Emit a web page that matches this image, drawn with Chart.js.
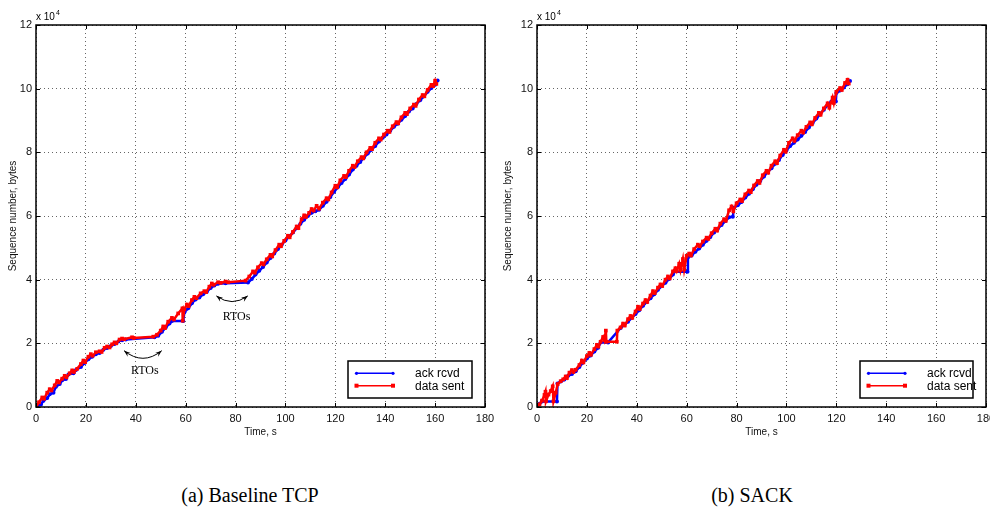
<!DOCTYPE html>
<html>
<head>
<meta charset="utf-8">
<script src="https://cdn.jsdelivr.net/npm/chart.js@4.4.1/dist/chart.umd.min.js"></script>
<style>
  html, body { margin: 0; padding: 0; background: #fff; overflow: hidden; }
  #wrap { position: relative; width: 990px; height: 515px; }
  canvas { position: absolute; top: 0; }
  #c1 { left: 0; }
  #c2 { left: 495px; }
  .cap {
    position: absolute; top: 484px; transform: translateX(-50%); white-space: nowrap;
    font-family: "Liberation Serif", "DejaVu Serif", serif; font-size: 20px; color: #000;
  }
</style>
</head>
<body>
<div id="wrap">
  <canvas id="c1" width="495" height="450"></canvas>
  <canvas id="c2" width="495" height="450"></canvas>
  <div class="cap" style="left:250px">(a) Baseline TCP</div>
  <div class="cap" style="left:752px">(b) SACK</div>
</div>
<script>
// series names
const seriesLabels = ['ack rcvd', 'data sent'];

// [time s, sequence number bytes]

// (a) Baseline TCP
const baseAck = [
  [0,0],[2,800],[3,2000],[4.5,2800],[5.5,4000],[7,4500],[8,6400],[9.5,7200],[10.5,8400],[12,8800],
  [13,10200],[15,10600],[16,11600],[18,12600],[19.5,13800],[21,15000],[22.5,15800],[24,16600],[25.5,17000],
  [27,18000],[28.5,18500],[30,19200],[31.5,19800],[33,20600],[34.5,21000],[36,21200],[47.5,21900],[49,22400],
  [50.5,23600],[52,25000],[53.5,26200],[54.5,27000],[59,27000],[59.5,29800],[61,31000],[62.5,32600],[64,33800],
  [65.5,34400],[67,35400],[68.5,36200],[70,37400],[71.5,38200],[73,38700],[76,38900],[85,39100],[86.5,40200],
  [88,41600],[89.5,42800],[91,44000],[92.5,45400],[94,46800],[95.5,48200],[97,49600],[98.5,51000],[100,52300],
  [101.5,53600],[103,54800],[104.5,56200],[106,57600],[107.5,58800],[109,60000],[110.5,61000],[112,61500],
  [113.5,62000],[115,63200],[116.5,64500],[118,66000],[119.5,67600],[121,69000],[122.5,70400],[124,71600],
  [125.5,73000],[127,74600],[128.5,75800],[130,77000],[131.5,78400],[133,79600],[134.5,80800],[136,82000],
  [137.5,83400],[139,84600],[140.5,85600],[142,86800],[143.5,88000],[145,89000],[146.5,90200],[148,91400],
  [149.5,92800],[151,93800],[152.5,95200],[154,96400],[155.5,97600],[157,99000],[158.5,100200],[160,101200],
  [161,102600]
];
const baseSent = [
  [0,0],[1.2,1500],[2.5,3000],[3.2,2600],[4.5,4500],[5.5,5600],[6.2,5200],[7.5,6800],[8.5,8200],[9.2,7700],
  [10.5,8900],[11.5,9800],[12.2,9300],[13.5,10600],[14.5,11500],[15.2,11000],[16.5,12000],[18,13500],[19,14600],
  [19.7,14100],[21,15800],[22,16600],[22.7,16100],[24,17200],[25.5,17500],[26.3,17300],[27.5,18600],[28.5,19000],
  [29.5,18700],[30.5,19700],[31.5,20300],[32.2,20000],[33.5,21200],[34.5,21500],[35.3,21300],[38.5,21900],
  [39.2,21700],[47,22100],[48.5,22700],[50,24000],[51,25300],[51.7,24800],[53,26800],[54.5,28000],[55.3,27500],
  [57,29400],[58.7,31000],[58.8,27100],[59.5,30800],[60.5,32200],[61.2,31700],[62.5,33600],[63.5,34600],
  [64.3,34200],[66,35700],[67.5,36400],[68.2,36100],[69.5,37800],[70.5,38800],[71.2,38400],[73,39200],
  [74,39000],[76,39400],[77,39200],[84,39700],[85.5,41000],[87,42600],[87.7,42200],[89,43900],[90.5,45200],
  [91.2,44800],[92.5,46400],[94,47800],[94.7,47300],[96,49300],[97.5,51000],[98.2,50500],[99.5,52200],
  [101,53800],[101.7,53300],[103,55000],[104.5,56700],[105.2,56200],[106.5,59000],[107.5,60200],[108.2,59700],
  [109.5,61000],[110.5,62200],[111.3,61700],[112.5,63200],[113.5,62300],[115,64200],[116.5,65600],[117.2,65200],
  [118.5,67400],[120,69500],[120.7,69000],[122,71200],[123.5,72600],[124.2,72200],[125.5,74200],[127,75800],
  [127.7,75400],[129,77200],[130.5,78500],[131.2,78100],[132.5,80000],[134,81400],[134.7,81000],[136,83000],
  [137.5,84400],[138.2,84000],[139.5,85600],[141,86800],[141.7,86400],[143,88200],[144.5,89500],[145.2,89100],
  [146.5,91000],[148,92400],[148.7,92000],[150,93800],[151.5,95000],[152.2,94600],[153.5,96600],[155,98000],
  [155.7,97600],[157,99600],[158.5,101200],[159.2,100800],[160,102500],[160.5,101500]
];

// (b) SACK
const sackAck = [
  [0,0],[1,1000],[2,1700],[8,1700],[8.2,7400],[9.5,8000],[11,8600],[12.5,9800],[14,10400],[15.5,11200],
  [17,12600],[18.5,14000],[20,15200],[21.5,16200],[23,17400],[24.5,18600],[25.5,20300],[28.5,20300],[33.5,24800],
  [35,25800],[36.5,26800],[38,28000],[39.5,29200],[41,30400],[42.5,31800],[44,33000],[45.5,34200],[47,35400],
  [48.5,36800],[50,38000],[51.5,39000],[53,40200],[54.5,41600],[55,42500],[60.3,42500],[60.5,47000],[62,47600],
  [63.5,48800],[65,49800],[66.5,51000],[68,52200],[69.5,53400],[71,54800],[72.5,56000],[74,57200],[75.5,58400],
  [77,59600],[78.5,59800],[79,62600],[80.5,63400],[82,64400],[83.5,65800],[85,67000],[86.5,68400],[88,69800],
  [89.5,71000],[91,72400],[92.5,73800],[94,75000],[95.5,76400],[97,77600],[98.5,79200],[100,80600],[101.5,82000],
  [103,83000],[104.5,84000],[106,85200],[107.5,86400],[109,87800],[110.5,89200],[112,90600],[113.5,92000],
  [115,93400],[116.5,94800],[118,96000],[119.8,96000],[120,98600],[121.5,99400],[123,100400],[124.5,101400],
  [125.5,102400]
];
const sackSent = [
  [0,0],[1,800],[2,2000],[3,3800],[3.4,4800],[3.6,1800],[4.6,3900],[5.5,5000],[6.3,6500],[6.6,1800],[7.5,4500],
  [8.3,7200],[9.5,8100],[10.5,8700],[11.5,9600],[12,9100],[13,10800],[14,11600],[14.6,11000],[15.5,11700],
  [17,13200],[18,14600],[18.6,14000],[20,16000],[21,17000],[21.6,16400],[23,18200],[24,19500],[24.6,19000],
  [25.5,20500],[26.5,22000],[27,21000],[27.6,24000],[27.8,20500],[32,20500],[32.2,24000],[33.5,25000],
  [34.5,26200],[35.2,25600],[36.5,27600],[37.5,28600],[38.2,28000],[39.5,30000],[40.5,31500],[41.2,30800],
  [42.5,32500],[43.5,33600],[44.2,33000],[45.5,35000],[46.5,36400],[47.2,35800],[48.5,37500],[49.5,38500],
  [50.2,38000],[51.5,40000],[52.5,41000],[53.2,40400],[54.5,42600],[55.5,43600],[56,42700],[57,45000],
  [57.5,43000],[58.5,46500],[59,43200],[60,47500],[61,48200],[61.7,47600],[63,49600],[64.5,51000],[65.2,50500],
  [66.5,52000],[68,53200],[68.7,52800],[70,54600],[71.5,56000],[72.2,55400],[73.5,57600],[75,59000],
  [75.7,58500],[77,61800],[78,63000],[78.7,61500],[80,64000],[81.5,65200],[82.2,64700],[83.5,66800],[85,68000],
  [85.7,67500],[87,69600],[88.5,71000],[89.2,70400],[90.5,72800],[92,74200],[92.7,73600],[94,75800],[95.5,77200],
  [96.2,76600],[97.5,79000],[99,80800],[99.7,80200],[101,83000],[102.5,84400],[103.2,83600],[104.5,85400],
  [106,86800],[106.7,86200],[108,88000],[109.5,89400],[110.2,88800],[111.5,90800],[113,92400],[113.7,91800],
  [115,93800],[116.5,95400],[117.2,94000],[118.5,97200],[119,95500],[120,99000],[121.5,100200],[122.2,99600],
  [123.5,101800],[124.5,102800],[125,101600]
];

// "RTOs" notes on the baseline plot: curve start, control, end, text spot (data units)
const baseNotes = [
  { a: [35.3, 17700], c: [42.9, 12900], b: [50.4, 17700], at: [43.6, 11400], text: 'RTOs' },
  { a: [72.3, 34900], c: [78.6, 31300], b: [84.9, 34900], at: [80.4, 28400], text: 'RTOs' }
];

const tickFont = { family: 'Liberation Sans, Arial, sans-serif', size: 11 };
const titleFont = { family: 'Liberation Sans, Arial, sans-serif', size: 10 };

function line(ctx, x1, y1, x2, y2) {
  ctx.beginPath(); ctx.moveTo(x1, y1); ctx.lineTo(x2, y2); ctx.stroke();
}

function arrowHead(ctx, tip, from) {
  const ang = Math.atan2(tip[1] - from[1], tip[0] - from[0]);
  const len = 7, spread = 0.35;
  ctx.beginPath();
  ctx.moveTo(tip[0], tip[1]);
  ctx.lineTo(tip[0] - len * Math.cos(ang - spread), tip[1] - len * Math.sin(ang - spread));
  ctx.lineTo(tip[0] - len * 0.6 * Math.cos(ang), tip[1] - len * 0.6 * Math.sin(ang));
  ctx.lineTo(tip[0] - len * Math.cos(ang + spread), tip[1] - len * Math.sin(ang + spread));
  ctx.closePath();
  ctx.fill();
}

const decorPlugin = {
  id: 'decor',
  afterDraw(chart, args, opts) {
    const { ctx, chartArea: a, scales: { x, y } } = chart;
    ctx.save();
    ctx.strokeStyle = '#000';
    ctx.fillStyle = '#000';
    ctx.lineWidth = 1;

    // inward tick marks on all four sides
    x.ticks.forEach(t => {
      const px = Math.round(x.getPixelForValue(t.value)) + 0.5;
      line(ctx, px, a.bottom, px, a.bottom - 4);
      line(ctx, px, a.top, px, a.top + 4);
    });
    y.ticks.forEach(t => {
      const py = Math.round(y.getPixelForValue(t.value)) + 0.5;
      line(ctx, a.left, py, a.left + 4, py);
      line(ctx, a.right, py, a.right - 4, py);
    });

    // axes box
    ctx.lineWidth = 1.5;
    ctx.strokeRect(a.left, a.top, a.right - a.left, a.bottom - a.top);

    // x 10^4 multiplier
    ctx.font = '10px "Liberation Sans", Arial, sans-serif';
    ctx.textBaseline = 'alphabetic';
    ctx.textAlign = 'left';
    ctx.fillText('x 10', a.left, a.top - 5);
    const w = ctx.measureText('x 10').width;
    ctx.font = '7px "Liberation Sans", Arial, sans-serif';
    ctx.fillText('4', a.left + w + 1, a.top - 10);

    // notes with curved double arrows
    ctx.lineWidth = 1;
    (opts.notes || []).forEach(n => {
      const p0 = [x.getPixelForValue(n.a[0]), y.getPixelForValue(n.a[1])];
      const pc = [x.getPixelForValue(n.c[0]), y.getPixelForValue(n.c[1])];
      const p1 = [x.getPixelForValue(n.b[0]), y.getPixelForValue(n.b[1])];
      ctx.beginPath();
      ctx.moveTo(p0[0], p0[1]);
      ctx.quadraticCurveTo(pc[0], pc[1], p1[0], p1[1]);
      ctx.stroke();
      arrowHead(ctx, p0, pc);
      arrowHead(ctx, p1, pc);
      ctx.font = '12px "Liberation Serif", "Times New Roman", serif';
      ctx.textAlign = 'center';
      ctx.textBaseline = 'middle';
      ctx.fillText(n.text, x.getPixelForValue(n.at[0]), y.getPixelForValue(n.at[1]));
    });

    // legend box
    const L = opts.legend;
    const bx = a.right - L.right - L.w;
    const by = a.bottom - L.bottom;
    ctx.fillStyle = '#fff';
    ctx.fillRect(bx, by, L.w, L.h);
    ctx.strokeStyle = '#000';
    ctx.lineWidth = 1.5;
    ctx.strokeRect(bx, by, L.w, L.h);
    ctx.font = '12px "Liberation Sans", Arial, sans-serif';
    ctx.textAlign = 'left';
    ctx.textBaseline = 'middle';
    chart.data.datasets.forEach((ds, i) => {
      const ly = by + 12.3 + i * 12.4;
      const x1 = bx + 8.5, x2 = bx + 45;
      ctx.strokeStyle = ds.borderColor;
      ctx.fillStyle = ds.borderColor;
      ctx.lineWidth = 1.5;
      line(ctx, x1, ly, x2, ly);
      [x1, x2].forEach(px => {
        if (ds.pointStyle === 'rect') ctx.fillRect(px - 2, ly - 2, 4, 4);
        else { ctx.beginPath(); ctx.arc(px, ly, 1.6, 0, Math.PI * 2); ctx.fill(); }
      });
      ctx.fillStyle = '#000';
      ctx.fillText(ds.label, bx + 67, ly + 0.5);
    });
    ctx.restore();
  }
};

function makeChart(id, ack, sent, notes, yWidth, padRight, legend) {
  const ctx = document.getElementById(id).getContext('2d');
  return new Chart(ctx, {
    type: 'line',
    data: {
      datasets: [{
        label: seriesLabels[0],
        data: ack.map(p => ({ x: p[0], y: p[1] })),
        borderColor: 'rgb(0, 0, 255)',
        backgroundColor: 'rgb(0, 0, 255)',
        borderWidth: 2.5,
        pointStyle: 'circle',
        pointRadius: 2,
        pointBorderWidth: 0,
        tension: 0,
        order: 1
      }, {
        label: seriesLabels[1],
        data: sent.map(p => ({ x: p[0], y: p[1] })),
        borderColor: 'rgb(255, 0, 0)',
        backgroundColor: 'rgb(255, 0, 0)',
        borderWidth: 2.5,
        pointStyle: 'rect',
        pointRadius: 2.6,
        pointBorderWidth: 0,
        tension: 0,
        order: 0
      }]
    },
    options: {
      responsive: false,
      animation: false,
      events: [],
      layout: { padding: { top: 25, right: padRight, left: 0, bottom: 0 } },
      plugins: {
        legend: { display: false },
        tooltip: { enabled: false },
        decor: { notes: notes, legend: legend }
      },
      scales: {
        x: {
          type: 'linear',
          min: 0, max: 180,
          ticks: { stepSize: 20, font: tickFont, color: '#111', padding: 5, maxRotation: 0 },
          grid: { color: 'rgba(0,0,0,0.6)', lineWidth: 1, drawTicks: false },
          border: { display: false, dash: [1, 3] },
          title: { display: true, text: 'Time, s', font: titleFont, color: '#111', padding: { top: 0, bottom: 12 } },
          afterFit(s) { s.height = 43; s.paddingLeft = 0; s.paddingRight = 0; }
        },
        y: {
          type: 'linear',
          min: 0, max: 120000,
          ticks: { stepSize: 20000, font: tickFont, color: '#111', padding: 4, callback: v => v / 10000 },
          grid: { color: 'rgba(0,0,0,0.6)', lineWidth: 1, drawTicks: false },
          border: { display: false, dash: [1, 3] },
          title: { display: true, text: 'Sequence number, bytes', font: titleFont, color: '#111', padding: { top: 7, bottom: 0 } },
          afterFit(s) { s.width = yWidth; }
        }
      }
    },
    plugins: [decorPlugin]
  });
}

makeChart('c1', baseAck, baseSent, baseNotes, 36, 10, { right: 13, bottom: 46, w: 124, h: 37 });
makeChart('c2', sackAck, sackSent, [], 42, 3, { right: 13, bottom: 46, w: 113, h: 37 });
</script>
</body>
</html>
